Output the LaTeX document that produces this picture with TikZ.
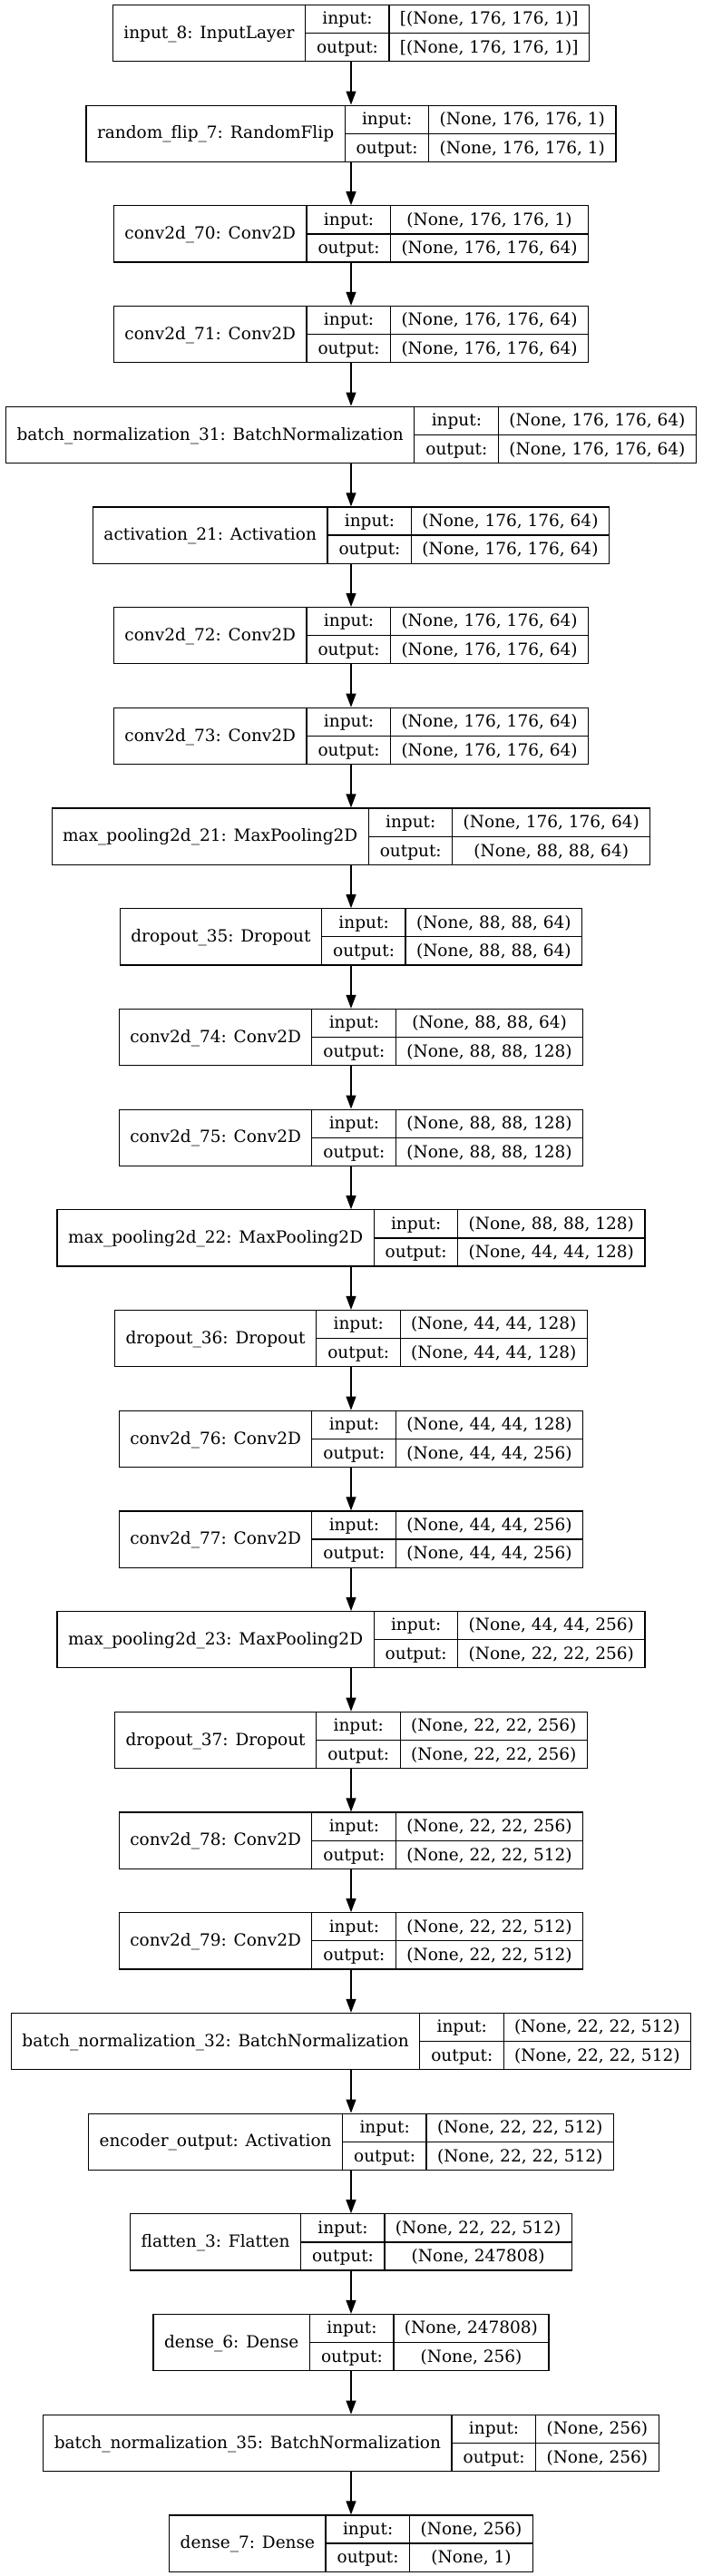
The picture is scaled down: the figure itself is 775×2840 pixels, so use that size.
\documentclass[tikz,border=0pt]{standalone}
\usepackage{fontspec}
\setmainfont{DejaVu Serif}
\usetikzlibrary{arrows.meta}
\setlength{\tabcolsep}{12pt}
\setlength{\arrayrulewidth}{1.2pt}
% one record: name | input:/output: | shapes
\newcommand{\layerrec}[3]{%
  \begin{tabular}{c|@{}c@{}}
    \raisebox{-1.4pt}{#1} &
    \begin{tabular}{c|c} input: & #2\\\hline output: & #3\end{tabular}
  \end{tabular}}
\tikzset{
  layer/.style={draw, line width=1.2pt, inner sep=0pt,
    font=\fontsize{18.5}{30.5}\selectfont},
  flow/.style={-{Triangle[length=15pt,width=11pt]}, line width=1.2pt}
}
\begin{document}
\begin{tikzpicture}[x=1pt,y=-1pt]
	\useasboundingbox (0,0) rectangle (775,2840);
	% layers
		\foreach \lbl/\inp/\outp [count=\i] in {
			input\_8: InputLayer/{[(None, 176, 176, 1)]}/{[(None, 176, 176, 1)]},
			random\_flip\_7: RandomFlip/{(None, 176, 176, 1)}/{(None, 176, 176, 1)},
			conv2d\_70: Conv2D/{(None, 176, 176, 1)}/{(None, 176, 176, 64)},
			conv2d\_71: Conv2D/{(None, 176, 176, 64)}/{(None, 176, 176, 64)},
			batch\_normalization\_31: BatchNormalization/{(None, 176, 176, 64)}/{(None, 176, 176, 64)},
			activation\_21: Activation/{(None, 176, 176, 64)}/{(None, 176, 176, 64)},
			conv2d\_72: Conv2D/{(None, 176, 176, 64)}/{(None, 176, 176, 64)},
			conv2d\_73: Conv2D/{(None, 176, 176, 64)}/{(None, 176, 176, 64)},
			max\_pooling2d\_21: MaxPooling2D/{(None, 176, 176, 64)}/{(None, 88, 88, 64)},
			dropout\_35: Dropout/{(None, 88, 88, 64)}/{(None, 88, 88, 64)},
			conv2d\_74: Conv2D/{(None, 88, 88, 64)}/{(None, 88, 88, 128)},
			conv2d\_75: Conv2D/{(None, 88, 88, 128)}/{(None, 88, 88, 128)},
			max\_pooling2d\_22: MaxPooling2D/{(None, 88, 88, 128)}/{(None, 44, 44, 128)},
			dropout\_36: Dropout/{(None, 44, 44, 128)}/{(None, 44, 44, 128)},
			conv2d\_76: Conv2D/{(None, 44, 44, 128)}/{(None, 44, 44, 256)},
			conv2d\_77: Conv2D/{(None, 44, 44, 256)}/{(None, 44, 44, 256)},
			max\_pooling2d\_23: MaxPooling2D/{(None, 44, 44, 256)}/{(None, 22, 22, 256)},
			dropout\_37: Dropout/{(None, 22, 22, 256)}/{(None, 22, 22, 256)},
			conv2d\_78: Conv2D/{(None, 22, 22, 256)}/{(None, 22, 22, 512)},
			conv2d\_79: Conv2D/{(None, 22, 22, 512)}/{(None, 22, 22, 512)},
			batch\_normalization\_32: BatchNormalization/{(None, 22, 22, 512)}/{(None, 22, 22, 512)},
			encoder\_output: Activation/{(None, 22, 22, 512)}/{(None, 22, 22, 512)},
			flatten\_3: Flatten/{(None, 22, 22, 512)}/{(None, 247808)},
			dense\_6: Dense/{(None, 247808)}/{(None, 256)},
			batch\_normalization\_35: BatchNormalization/{(None, 256)}/{(None, 256)},
			dense\_7: Dense/{(None, 256)}/{(None, 1)}}{
			\node[layer] (l\i) at (387,{36.5+(\i-1)*110.7}) {\layerrec{\lbl}{\inp}{\outp}};
			}
	% connectors
		\foreach \i [count=\j from 2] in {1,...,25}
			\draw[flow] (l\i.south) -- (l\j.north);
\end{tikzpicture}
\end{document}
